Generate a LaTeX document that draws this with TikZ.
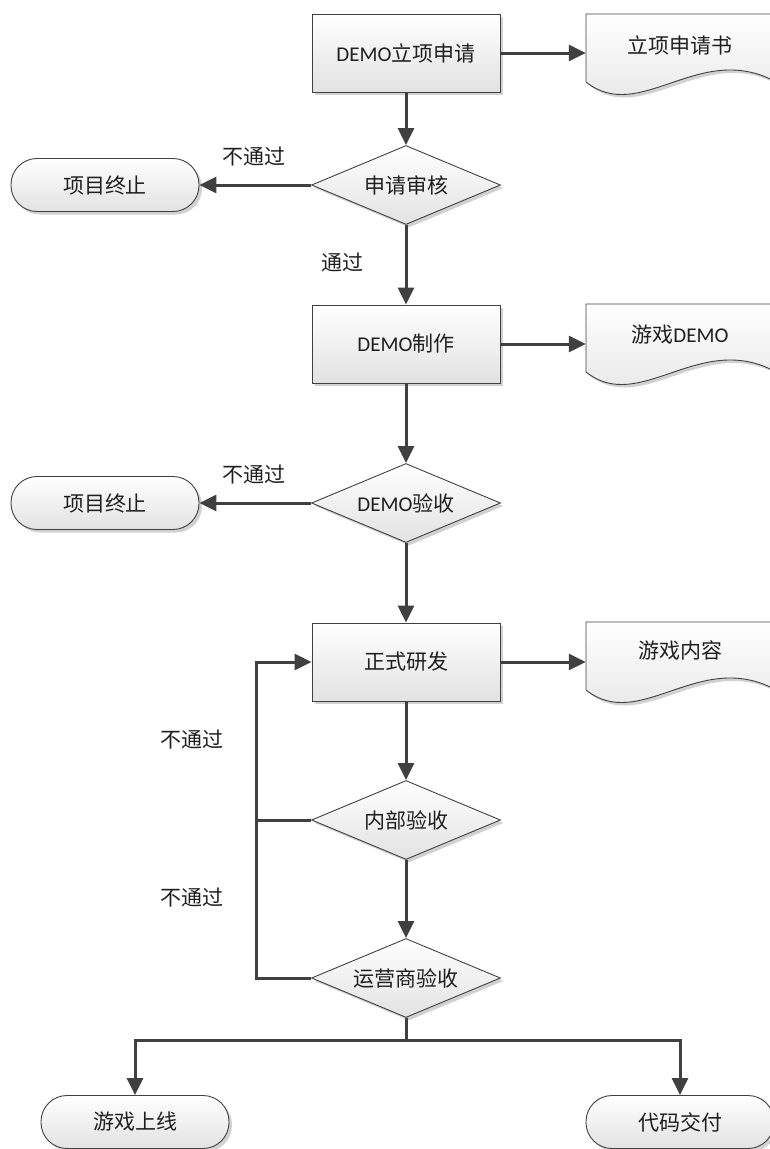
\documentclass[tikz,border=0pt]{standalone}
\usepackage{fontspec}
\setmainfont{Carlito}
\newfontfamily\cjk{Noto Sans CJK SC}
\newfontfamily\lat{Carlito}
\usetikzlibrary{shapes.geometric,arrows.meta,shadows}
\definecolor{ln}{HTML}{404040}
\definecolor{bot}{HTML}{E2E2E2}
\newcommand\drawdocshape[1]{%
  \fill[black!18] (589,#1+3) -- (779,#1+3) -- (779,#1+71) .. controls (703,#1+29) and (643,#1+114) .. (589,#1+71) -- cycle;
  \path[docshape] (586,#1) -- (776,#1) -- (776,#1+68) .. controls (700,#1+26) and (640,#1+111) .. (586,#1+68) -- cycle;}
\begin{document}
\begin{tikzpicture}[x=1pt,y=-1pt,
  base/.style={draw=ln,line width=0.9pt,top color=white,bottom color=bot,
    font=\cjk\fontsize{21}{25}\selectfont,text=black!88,inner sep=0pt,
    drop shadow={shadow xshift=3pt,shadow yshift=-3pt,fill=black!18,opacity=1}},
  procbox/.style={base,rectangle,minimum width=188pt,minimum height=78pt},
  decide/.style={base,diamond,aspect=2.4,minimum width=189pt,minimum height=79pt},
  term/.style={base,rectangle,rounded corners=26pt,minimum width=188pt,minimum height=53pt},
  docshape/.style={draw=ln,line width=0.9pt,top color=white,bottom color=bot},
  docarea/.style={rectangle,minimum width=190pt,minimum height=78pt,inner sep=0pt},
  conn/.style={draw=ln,line width=3pt},
  arr/.style={conn,-{Triangle[length=17pt,width=16pt]}},
  lbl/.style={font=\cjk\fontsize{21}{25}\selectfont,text=black!88,inner sep=0pt},
]
\useasboundingbox (0,0) rectangle (769,1149);

% documents
\drawdocshape{14}
\drawdocshape{304}
\drawdocshape{622}
\node[docarea] (doc1) at (681,53) {};
\node[docarea] (doc2) at (681,344) {};
\node[docarea] (doc3) at (681,662) {};
\node[lbl] (doc1t) at (680,45) {立项申请书};
\node[lbl] (doc2t) at (680,335) {游戏{\lat DEMO}};
\node[lbl] (doc3t) at (680,650) {游戏内容};

% main column
\node[procbox] (b1) at (406,53) {{\lat DEMO}立项申请};
\node[decide] (d1) at (406,185) {申请审核};
\node[procbox] (b2) at (406,344) {{\lat DEMO}制作};
\node[decide] (d2) at (406,503) {{\lat DEMO}验收};
\node[procbox] (b3) at (406,662) {正式研发};
\node[decide] (d3) at (406,820) {内部验收};
\node[decide] (d4) at (406,978) {运营商验收};

% terminals
\node[term] (t1) at (105,185) {项目终止};
\node[term] (t2) at (105,503) {项目终止};
\node[term] (t3) at (135,1122) {游戏上线};
\node[term] (t4) at (680,1122) {代码交付};

% labels
\node[lbl] (n1) at (254,157) {不通过};
\node[lbl] (y1) at (342,262) {通过};
\node[lbl] (n2) at (254,475) {不通过};
\node[lbl] (n3) at (192,740) {不通过};
\node[lbl] (n4) at (192,898) {不通过};

% helper points
\coordinate (lx3) at (256,820);
\coordinate (lx4) at (256,978);
\coordinate (split) at (406,1040);

% connectors
\draw[arr] (b1.east) -- (doc1.west);
\draw[arr] (b1.south) -- (d1.north);
\draw[arr] (d1.west) -- (t1.east);
\draw[arr] (d1.south) -- (b2.north);
\draw[arr] (b2.east) -- (doc2.west);
\draw[arr] (b2.south) -- (d2.north);
\draw[arr] (d2.west) -- (t2.east);
\draw[arr] (d2.south) -- (b3.north);
\draw[arr] (b3.east) -- (doc3.west);
\draw[arr] (b3.south) -- (d3.north);
\draw[arr] (d3.south) -- (d4.north);
\draw[conn] (d3.west) -- (lx3);
\draw[arr] (d4.west) -- (lx4) |- (b3.west);
\draw[conn] (d4.south) -- (split);
\draw[arr] (split) -| (t3.north);
\draw[arr] (split) -| (t4.north);
\end{tikzpicture}
\end{document}
